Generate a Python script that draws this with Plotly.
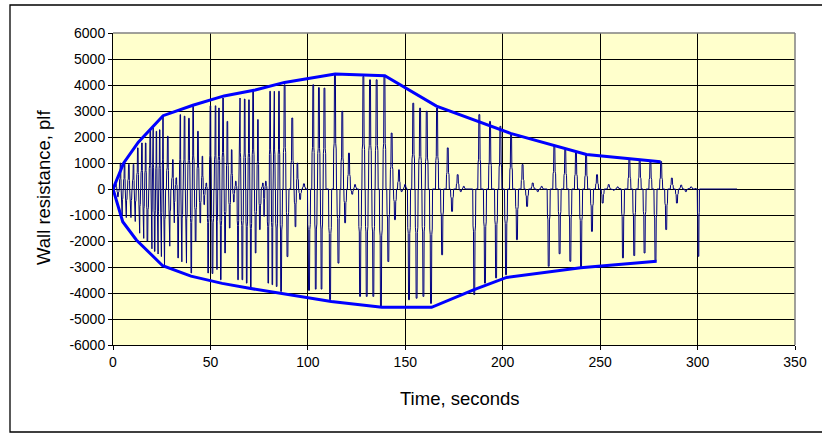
import plotly.graph_objects as go

# ---- data (times and values of each pulse peak) ----
time_s = [0, 1.5, 2.5, 3.9, 4.5, 6.0, 6.6, 8.2, 9.0, 10.6, 11.2, 12.8, 13.5, 14.9, 15.6, 16.8, 17.6,
          19.2, 19.9, 20.5, 21.4, 22.3, 23.0, 24.0, 24.7, 25.7, 26.2, 28.2, 28.9, 30.8, 31.3, 32.5, 33.4,
          34.6, 35.1, 36.8, 37.5, 39.0, 40.2, 41.1, 42.4, 43.6, 44.8, 45.9, 46.8, 47.9, 48.8,
          50.0, 51.0, 52.7, 53.2, 54.4, 55.3, 56.5, 57.5, 58.7, 59.9, 60.9, 62.0, 63.0, 64.2,
          65.0, 66.4, 67.6, 68.6, 69.8, 70.7, 71.9, 73.2, 74.4, 75.3, 77.0, 77.5, 78.4, 79.7,
          80.6, 81.8, 82.6, 84.0, 85.2, 86.2, 88.1, 89.5, 92.0, 93.7, 94.6, 96.0, 98.0, 100.6,
          102.8, 104.0, 105.7, 107.0, 108.5, 111.4, 113.9, 115.7, 117.7, 119.1, 121.1, 122.8, 124.2, 126.8,
          128.5, 130.2, 131.9, 133.6, 135.3, 137.5, 139.3, 141.3, 143.0, 144.7, 146.8, 148.1, 149.9, 151.9,
          154.1, 155.8, 157.6, 159.3, 161.0, 163.2, 166.3, 168.9, 171.8, 174.0, 176.9, 178.5, 180.0, 182.0, 185.4,
          188.0, 190.9, 193.5, 196.6, 198.8, 201.7, 204.3, 207.3, 210.2, 212.5, 215.4, 218.0, 220.0, 223.6,
          226.5, 229.2, 232.1, 234.7, 237.6, 240.2, 242.8, 245.8, 248.4, 251.3, 254.4, 257.0, 259.0, 261.7,
          265.0, 267.5, 270.3, 272.8, 275.8, 278.4, 281.3, 283.9, 286.8, 289.4, 291.6, 294.0, 296.7, 299.0,
          300.5, 301.5, 303.0, 310.0, 315.0, 319.8]
resistance_plf = [0, 200, -300, 1000, -1000, 1000, -1100, 950, -1100, 950, -1250, 1580, -1700, 1770, -1900, 1770, -2000,
                  2280, -2300, 2350, -2400, 2220, -2500, 2280, -2600, 2800, -2950, 2030, -2200, 1130, -1300, 430, -2650,
                  2860, -2800, 2800, -2850, 2720, -3230, 3180, -2010, 2220, -1300, 1260, -600, 230, -3230,
                  3200, -3250, 3200, -3100, 3115, -3490, 3500, -2460, 2600, -1500, 1510, -500, 300, -3490,
                  3500, -3490, 3460, -3620, 3430, -3810, 3760, -2460, 2670, -1560, 230, -1050, 300, -3620,
                  3760, -3680, 3760, -3750, 3760, -3940, 4010, -2600, 2730, -1450, 1000, -400, 200, -3900,
                  4010, -3850, 3900, -3850, 3880, -4260, 4400, -2850, 2990, -1300, 1380, -200, 170, -4130,
                  4330, -4130, 4200, -4130, 4200, -4510, 4360, -2790, 2150, -1180, 740, -100, 170, -4260,
                  3300, -4200, 3110, -4130, 2990, -4400, 3115, -2530, 1580, -860, 550, -100, 100, 0, -4060,
                  2860, -3620, 2600, -3420, 2410, -3300, 2090, -1950, 940, -670, 230, -100, 100, -2970,
                  1670, -2490, 1510, -2780, 1410, -3040, 1320, -1630, 550, -540, 170, -50, 80, -2650,
                  1150, -2560, 1130, -2460, 1060, -2780, 1060, -1560, 420, -540, 150, -100, 80, 20,
                  -2590, 0, 20, 0, 10, 0]

env_upper_t = [0, 5.5, 13, 25.7, 41, 57, 73, 88, 114, 139.5, 166, 204, 243, 281]
env_upper_v = [0, 1000, 1800, 2820, 3220, 3580, 3810, 4100, 4420, 4360, 3190, 2140, 1330, 1050]
env_lower_t = [0, 5, 12, 25.5, 40, 56, 70, 88, 112, 138, 163.5, 185, 202, 240, 279]
env_lower_v = [0, -1260, -1960, -2950, -3350, -3630, -3820, -4050, -4330, -4550, -4550, -3880, -3400, -3030, -2780]

x_tick_vals = [0, 50, 100, 150, 200, 250, 300, 350]
x_tick_text = ["0", "50", "100", "150", "200", "250", "300", "350"]
y_tick_vals = [-6000, -5000, -4000, -3000, -2000, -1000, 0, 1000, 2000, 3000, 4000, 5000, 6000]
y_tick_text = ["-6000", "-5000", "-4000", "-3000", "-2000", "-1000", "0",
               "1000", "2000", "3000", "4000", "5000", "6000"]

FONT = "Liberation Sans, Arial, sans-serif"

# Draw each peak as a narrow stepped pulse returning to the baseline between peaks
pulse_x, pulse_y = [], []
n = len(time_s)
for i in range(n):
    t, v = time_s[i], resistance_plf[i]
    gap_l = t - time_s[i - 1] if i > 0 else 1.0
    gap_r = time_s[i + 1] - t if i < n - 1 else 1.0
    hl = min(0.8, gap_l / 2.2)
    hr = min(0.8, gap_r / 2.2)
    pulse_x += [t - hl, t - hl * 0.8, t - hl * 0.5, t - hl * 0.3, t + hr * 0.3, t + hr * 0.5, t + hr * 0.8, t + hr]
    pulse_y += [0, 0.35 * v, 0.4 * v, v, v, 0.4 * v, 0.35 * v, 0]

fig = go.Figure()
fig.add_trace(go.Scatter(x=pulse_x, y=pulse_y, mode="lines",
                         line=dict(color="#000080", width=1), hoverinfo="skip"))
fig.add_trace(go.Scatter(x=env_upper_t, y=env_upper_v, mode="lines",
                         line=dict(color="#0000FF", width=3), hoverinfo="skip"))
fig.add_trace(go.Scatter(x=env_lower_t, y=env_lower_v, mode="lines",
                         line=dict(color="#0000FF", width=3), hoverinfo="skip"))

L, R, T, B = 113, 795, 33, 345
W, H = 822, 435
pw, ph = R - L, B - T


def px(x):
    return (x - L) / pw


def py(y):
    return (B - y) / ph


fig.update_layout(
    width=W, height=H,
    margin=dict(l=L, r=W - R, t=T, b=H - B),
    paper_bgcolor="white", plot_bgcolor="#FFFFCC",
    showlegend=False,
    font=dict(family=FONT, size=14, color="black"),
    shapes=[
        dict(type="line", xref="paper", yref="paper", x0=0, x1=1, y0=1, y1=1,
             line=dict(color="#808080", width=1.5), layer="above"),
        dict(type="line", xref="paper", yref="paper", x0=1, x1=1, y0=0, y1=1,
             line=dict(color="#808080", width=1.5), layer="above"),
        dict(type="rect", xref="paper", yref="paper", x0=px(10), x1=px(830), y0=py(432), y1=py(5),
             line=dict(color="black", width=1.3), fillcolor="rgba(0,0,0,0)", layer="above"),
    ],
    annotations=[
        dict(text="Time, seconds", xref="paper", yref="paper", x=px(460), y=py(398),
             xanchor="center", yanchor="middle", showarrow=False,
             font=dict(family=FONT, size=18.5, color="black")),
        dict(text="Wall resistance, plf", xref="paper", yref="paper", x=px(43), y=py(188),
             xanchor="center", yanchor="middle", showarrow=False, textangle=-90,
             font=dict(family=FONT, size=18.5, color="black")),
    ],
)
fig.update_xaxes(range=[0, 350], tickmode="array", tickvals=x_tick_vals, ticktext=x_tick_text,
                 showgrid=True, gridcolor="black", gridwidth=1, zeroline=False,
                 ticks="outside", ticklen=4, tickcolor="black", tickwidth=1,
                 showline=True, linecolor="black", linewidth=1,
                 tickfont=dict(family=FONT, size=14, color="black"), fixedrange=True)
fig.update_yaxes(range=[-6000, 6000], tickmode="array", tickvals=y_tick_vals, ticktext=y_tick_text,
                 showgrid=True, gridcolor="black", gridwidth=1, zeroline=False,
                 ticks="outside", ticklen=4, tickcolor="black", tickwidth=1,
                 showline=True, linecolor="black", linewidth=1,
                 tickfont=dict(family=FONT, size=14, color="black"), fixedrange=True)

fig.write_html("out.html")
